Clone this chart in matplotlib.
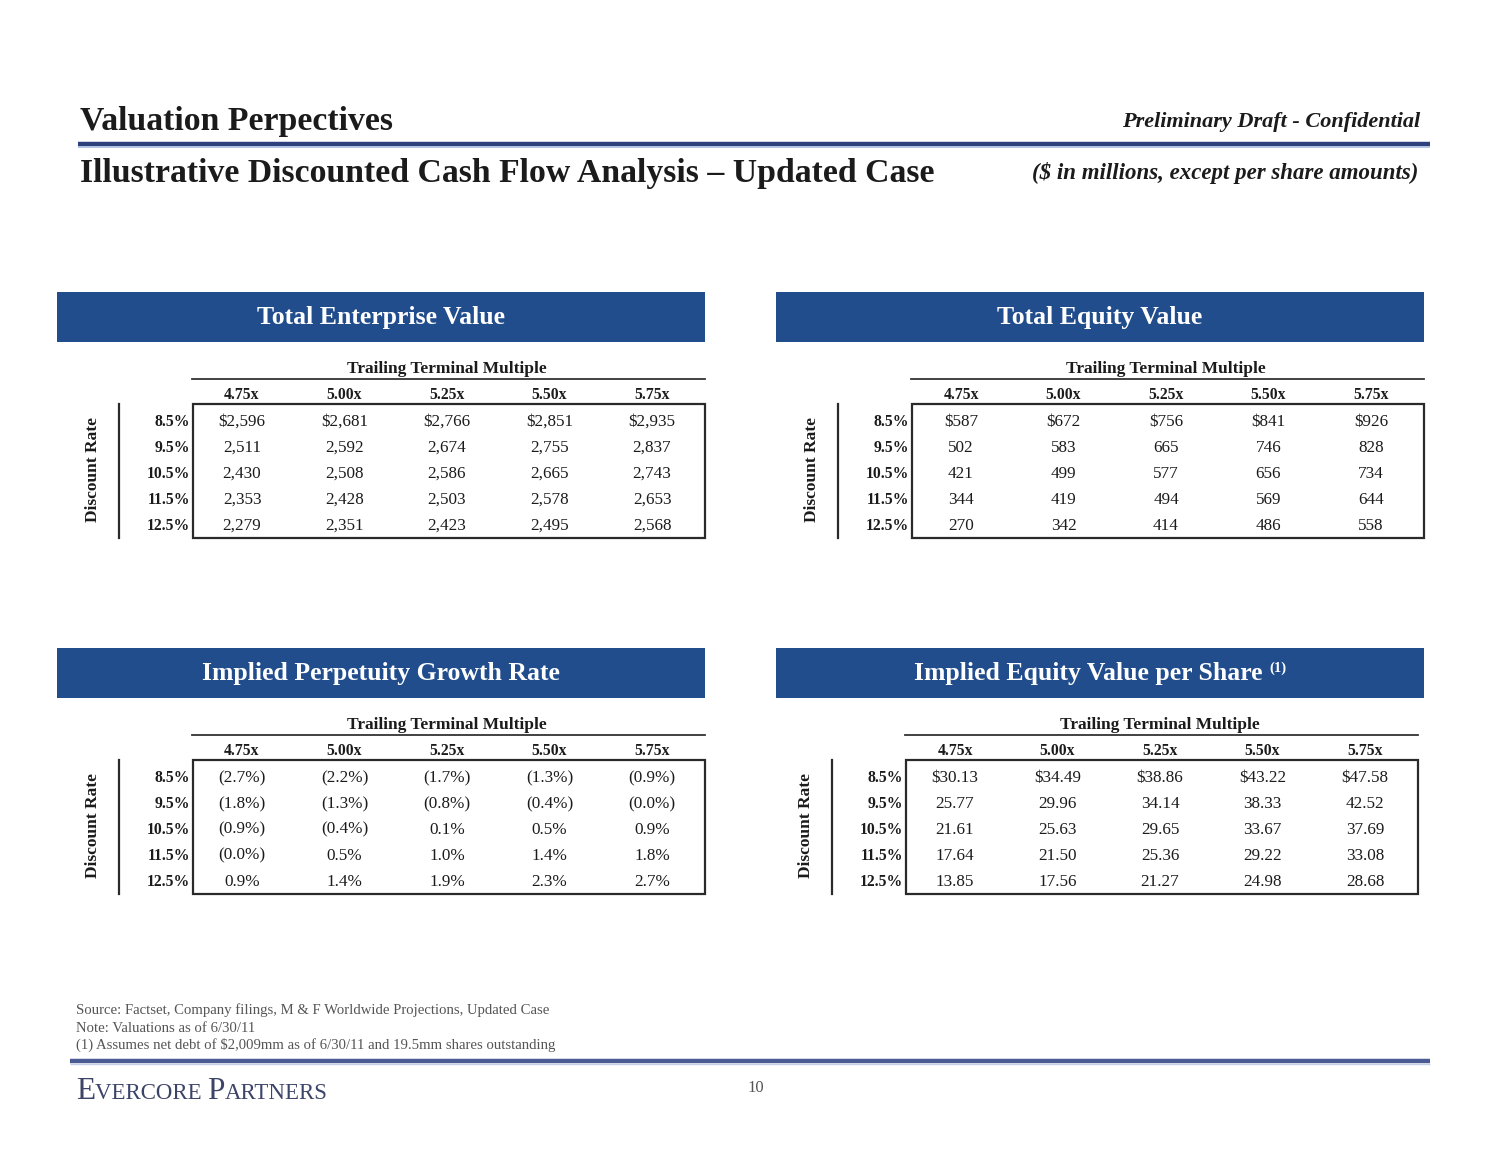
import math
import matplotlib
matplotlib.use("Agg")
import matplotlib.pyplot as plt
from matplotlib.patches import Rectangle

plt.rcParams['font.family'] = ['Liberation Serif', 'DejaVu Serif']

# ---------------- data ----------------
multiples = ["4.75x", "5.00x", "5.25x", "5.50x", "5.75x"]
discount_rates = ["8.5%", "9.5%", "10.5%", "11.5%", "12.5%"]

total_enterprise_value = [
    [2596, 2681, 2766, 2851, 2935],
    [2511, 2592, 2674, 2755, 2837],
    [2430, 2508, 2586, 2665, 2743],
    [2353, 2428, 2503, 2578, 2653],
    [2279, 2351, 2423, 2495, 2568],
]
total_equity_value = [
    [587, 672, 756, 841, 926],
    [502, 583, 665, 746, 828],
    [421, 499, 577, 656, 734],
    [344, 419, 494, 569, 644],
    [270, 342, 414, 486, 558],
]
implied_growth_rate = [
    [-2.7, -2.2, -1.7, -1.3, -0.9],
    [-1.8, -1.3, -0.8, -0.4, -0.0],
    [-0.9, -0.4, 0.1, 0.5, 0.9],
    [-0.0, 0.5, 1.0, 1.4, 1.8],
    [0.9, 1.4, 1.9, 2.3, 2.7],
]
equity_per_share = [
    [30.13, 34.49, 38.86, 43.22, 47.58],
    [25.77, 29.96, 34.14, 38.33, 42.52],
    [21.61, 25.63, 29.65, 33.67, 37.69],
    [17.64, 21.50, 25.36, 29.22, 33.08],
    [13.85, 17.56, 21.27, 24.98, 28.68],
]

title = "Valuation Perpectives"
subtitle = "Illustrative Discounted Cash Flow Analysis \u2013 Updated Case"
draft_note = "Preliminary Draft - Confidential"
units_note = "($ in millions, except per share amounts)"
footnotes = [
    "Source: Factset, Company filings, M & F Worldwide Projections, Updated Case",
    "Note: Valuations as of 6/30/11",
    "(1) Assumes net debt of $2,009mm as of 6/30/11 and 19.5mm shares outstanding",
]
page_number = "10"

# ---------------- formatters ----------------
def fmt_money(decimals):
    def f(v, first):
        s = f"{v:,.{decimals}f}"
        return ("$" + s) if first else s
    return f

def fmt_pct(v, first):
    if v < 0 or (v == 0 and math.copysign(1, v) < 0):
        return f"({abs(v):.1f}%)"
    return f"{v:.1f}%"

# ---------------- figure ----------------
W, H = 1500, 1159
fig = plt.figure(figsize=(W / 100, H / 100), dpi=100)
ax = fig.add_axes([0, 0, 1, 1])
ax.set_xlim(0, W)
ax.set_ylim(H, 0)
ax.axis("off")
renderer = fig.canvas.get_renderer()

BANNER = "#214d8d"
TXT = "#1b1b1b"

def runs_text(runs, x, y, ha="left", color=TXT, weight="normal", style="normal"):
    """Draw consecutive text runs [(text, size, dy)] on a common baseline."""
    objs = []
    for t, size, dy in runs:
        objs.append(ax.text(0, y + dy, t, fontsize=size, color=color,
                            fontweight=weight, fontstyle=style,
                            va="baseline", ha="left"))
    widths = [o.get_window_extent(renderer).width for o in objs]
    total = sum(widths)
    start = x - (total / 2 if ha == "center" else (total if ha == "right" else 0))
    for o, w in zip(objs, widths):
        o.set_x(start)
        start += w
    return objs

# header
ax.text(80, 130, title, fontsize=24.3, fontweight="bold", color=TXT, va="baseline")
ax.text(80, 182, subtitle, fontsize=24.3, fontweight="bold", color=TXT, va="baseline")
ax.text(1420, 127, draft_note, fontsize=16, fontweight="bold", fontstyle="italic",
        color=TXT, va="baseline", ha="right")
ax.text(1418, 179, units_note, fontsize=16.5, fontweight="bold", fontstyle="italic",
        color=TXT, va="baseline", ha="right")
ax.plot([78, 1430], [144, 144], color="#2d3f7c", lw=3.2, solid_capstyle="butt")
ax.plot([78, 1430], [147, 147], color="#a9bde0", lw=1.2, solid_capstyle="butt")

# panels
panels = [
    dict(title=[("Total Enterprise Value", 18.5, 0)], data=total_enterprise_value,
         fmt=fmt_money(0), bx=57, by=292, tdx=0),
    dict(title=[("Total Equity Value", 18.5, 0)], data=total_equity_value,
         fmt=fmt_money(0), bx=776, by=292, tdx=0),
    dict(title=[("Implied Perpetuity Growth Rate", 18.5, 0)], data=implied_growth_rate,
         fmt=fmt_pct, bx=57, by=648, tdx=0),
    dict(title=[("Implied Equity Value per Share ", 18.5, 0), ("(1)", 10.5, -8)],
         data=equity_per_share, fmt=fmt_money(2), bx=776, by=648, tdx=-6),
]

BW, BH = 648, 50
for p in panels:
    bx, by, tdx = p["bx"], p["by"], p["tdx"]
    ax.add_patch(Rectangle((bx, by), BW, BH, facecolor=BANNER, edgecolor="none"))
    runs_text(p["title"], bx + BW / 2, by + 32, ha="center", color="white", weight="bold")

    tx = bx + tdx
    col_x = [tx + 185 + 102.5 * j for j in range(len(multiples))]
    row_y = [by + 130 + 25.9 * i for i in range(len(discount_rates))]

    ax.text((col_x[0] + col_x[-1]) / 2, by + 77, "Trailing Terminal Multiple",
            fontsize=12.5, fontweight="bold", color=TXT, ha="center", va="center")
    ax.plot([tx + 135, tx + 648], [by + 87, by + 87], color="#333333", lw=1.3)
    for j, m in enumerate(multiples):
        ax.text(col_x[j], by + 103, m, fontsize=11.3, fontweight="bold", color=TXT,
                ha="center", va="center")
    ax.add_patch(Rectangle((tx + 136, by + 112), 512, 134, facecolor="none",
                           edgecolor="#2a2a2a", lw=1.6))
    ax.plot([tx + 62, tx + 62], [by + 112, by + 246], color="#2a2a2a", lw=1.6)
    ax.text(tx + 36, by + 178, "Discount Rate", fontsize=12.5, fontweight="bold",
            color=TXT, rotation=90, ha="center", va="center")
    for i, r in enumerate(discount_rates):
        ax.text(tx + 133, row_y[i], r, fontsize=11.3, fontweight="bold", color=TXT,
                ha="right", va="center")
        for j in range(len(multiples)):
            ax.text(col_x[j], row_y[i], p["fmt"](p["data"][i][j], i == 0),
                    fontsize=12.3, color=TXT, ha="center", va="center")

# footnotes
for k, line in enumerate(footnotes):
    ax.text(76, 1014 + 17.5 * k, line, fontsize=10.6, color="#555555", va="baseline")
ax.plot([70, 1430], [1061, 1061], color="#4a5a92", lw=3.2, solid_capstyle="butt")
ax.plot([70, 1430], [1064, 1064], color="#c5d0e8", lw=1.0, solid_capstyle="butt")

runs_text([("E", 22.5, 0), ("VERCORE ", 16.5, 0), ("P", 22.5, 0), ("ARTNERS", 16.5, 0)],
          76, 1099, color="#3c4468")
ax.text(756, 1092, page_number, fontsize=12, color="#555555", ha="center", va="baseline")

fig.savefig("out.png", dpi=100, facecolor="white")
